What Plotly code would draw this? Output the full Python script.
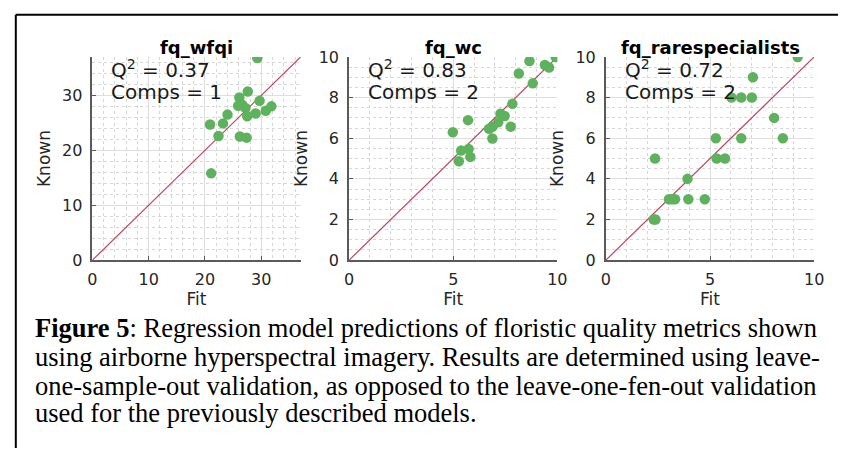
import plotly.graph_objects as go

W, H = 848, 458

# ---------------- data ----------------
titles = ["fq_wfqi", "fq_wc", "fq_rarespecialists"]
q2_values = ["0.37", "0.83", "0.72"]
comps_values = [1, 2, 2]
axis_max = [37, 10, 10]
x_tick_vals = [[0, 10, 20, 30], [0, 5, 10], [0, 5, 10]]
y_tick_vals = [[0, 10, 20, 30], [0, 2, 4, 6, 8, 10], [0, 2, 4, 6, 8, 10]]

wfqi_fit = [29.3, 27.6, 26.1, 29.7, 25.9, 26.6, 27.2, 27.5, 29.0, 30.8, 31.8,
            24.0, 23.2, 20.9, 22.4, 26.2, 27.4, 21.1]
wfqi_known = [36.8, 30.7, 29.6, 29.0, 28.1, 28.3, 27.7, 26.2, 26.7, 27.2, 28.0,
              26.5, 24.9, 24.7, 22.6, 22.5, 22.3, 15.8]

wc_fit = [9.92, 8.66, 9.40, 9.60, 8.15, 8.82, 7.84, 7.27, 7.47, 7.16, 6.89,
          6.72, 7.76, 6.88, 5.71, 4.98, 5.38, 5.74, 5.27, 5.82]
wc_known = [10.0, 9.80, 9.60, 9.48, 9.18, 8.70, 7.69, 7.20, 7.09, 6.78, 6.57,
            6.46, 6.57, 5.99, 6.89, 6.29, 5.39, 5.47, 4.87, 5.08]

rare_fit = [9.21, 7.06, 6.03, 6.50, 7.01, 8.08, 5.28, 6.50, 8.50, 2.36, 5.32,
            5.72, 3.92, 3.03, 3.17, 3.32, 3.96, 4.75, 2.30, 2.38]
rare_known = [10, 9, 8, 8, 8, 7, 6, 6, 6, 5, 5,
              5, 4, 3, 3, 3, 3, 3, 2, 2]

fits = [wfqi_fit, wc_fit, rare_fit]
knowns = [wfqi_known, wc_known, rare_known]

caption_lines = [
    "<b>Figure 5</b>: Regression model predictions of floristic quality metrics shown",
    "using airborne hyperspectral imagery. Results are determined using leave-",
    "one-sample-out validation, as opposed to the leave-one-fen-out validation",
    "used for the previously described models.",
]

# ---------------- layout helpers ----------------
def px_x(x):
    return x / W

def px_y(y):
    return 1 - y / H

panel_left = [89, 350.3, 611.7]
panel_w = 212
plot_top, plot_bottom = 50, 262

x_minor = [2, 1, 1]
y_minor = [2, 0.5, 0.5]

fig = go.Figure()

axis_col = "#5a5a5a"
tick_font = dict(family="DejaVu Sans", size=16, color="#262626")
label_font = dict(family="DejaVu Sans", size=17, color="#262626")
green = "rgb(94,178,94)"
red = "rgb(190,68,92)"

annotations = []
for i in range(3):
    sx = "x" if i == 0 else f"x{i+1}"
    sy = "y" if i == 0 else f"y{i+1}"
    xa = "xaxis" if i == 0 else f"xaxis{i+1}"
    ya = "yaxis" if i == 0 else f"yaxis{i+1}"
    m = axis_max[i]
    # identity line
    fig.add_trace(go.Scatter(x=[0, m], y=[0, m], mode="lines",
                             line=dict(color=red, width=1.2),
                             xaxis=sx, yaxis=sy, showlegend=False, hoverinfo="skip"))
    fig.add_trace(go.Scatter(x=fits[i], y=knowns[i], mode="markers",
                             marker=dict(color=green, size=10.5, line=dict(width=0)),
                             xaxis=sx, yaxis=sy, showlegend=False))
    L = panel_left[i]
    common = dict(showline=True, linecolor=axis_col, linewidth=1.8,
                  ticks="inside", ticklen=4, tickcolor=axis_col, tickwidth=1,
                  showgrid=True, gridcolor="rgb(222,222,222)", gridwidth=1,
                  zeroline=False, tickfont=tick_font, mirror=False,
                  range=[0, m], fixedrange=True)
    fig.update_layout({
        xa: dict(common, domain=[px_x(L), px_x(L + panel_w)],
                 anchor=sy, tickvals=x_tick_vals[i], ticklabelstandoff=4,
                 minor=dict(dtick=x_minor[i], tick0=0, showgrid=True,
                            gridcolor="rgb(215,215,215)", griddash="dot", ticks=""),
                 title=dict(text="Fit", font=label_font, standoff=3)),
        ya: dict(common, domain=[px_y(plot_bottom), px_y(plot_top)],
                 anchor=sx, tickvals=y_tick_vals[i], ticklabelstandoff=5,
                 minor=dict(dtick=y_minor[i], tick0=0, showgrid=True,
                            gridcolor="rgb(215,215,215)", griddash="dot", ticks=""),
                 title=dict(text="Known", font=label_font, standoff=7)),
    })
    cx = L + panel_w / 2
    annotations.append(dict(text=f"<b>{titles[i]}</b>", x=px_x(cx), y=px_y(40),
                            xref="paper", yref="paper", showarrow=False,
                            xanchor="center", yanchor="middle",
                            font=dict(family="DejaVu Sans", size=18, color="black")))
    annotations.append(dict(text=f"Q<sup>2</sup> = {q2_values[i]}", x=px_x(L + 17), y=px_y(63),
                            xref="paper", yref="paper", showarrow=False,
                            xanchor="left", yanchor="middle",
                            font=dict(family="DejaVu Sans", size=20, color="#1a1a1a")))
    annotations.append(dict(text=f"Comps = {comps_values[i]}", x=px_x(L + 17), y=px_y(87),
                            xref="paper", yref="paper", showarrow=False,
                            xanchor="left", yanchor="middle",
                            font=dict(family="DejaVu Sans", size=20, color="#1a1a1a")))

caption_y = [333, 363, 393, 422]
for line, yy in zip(caption_lines, caption_y):
    annotations.append(dict(text=line, x=px_x(28), y=px_y(yy), xref="paper", yref="paper",
                            showarrow=False, xanchor="left", yanchor="middle",
                            font=dict(family="Liberation Serif", size=26.5, color="black")))

shapes = [
    dict(type="line", xref="paper", yref="paper", x0=px_x(11), x1=1.0, y0=px_y(6), y1=px_y(6),
         line=dict(color="black", width=2)),
    dict(type="line", xref="paper", yref="paper", x0=px_x(11), x1=px_x(11), y0=px_y(6), y1=0,
         line=dict(color="black", width=2)),
]

fig.update_layout(width=W, height=H, margin=dict(l=0, r=0, t=0, b=0),
                  paper_bgcolor="white", plot_bgcolor="white",
                  annotations=annotations, shapes=shapes, showlegend=False)

fig.write_html("out.html")
